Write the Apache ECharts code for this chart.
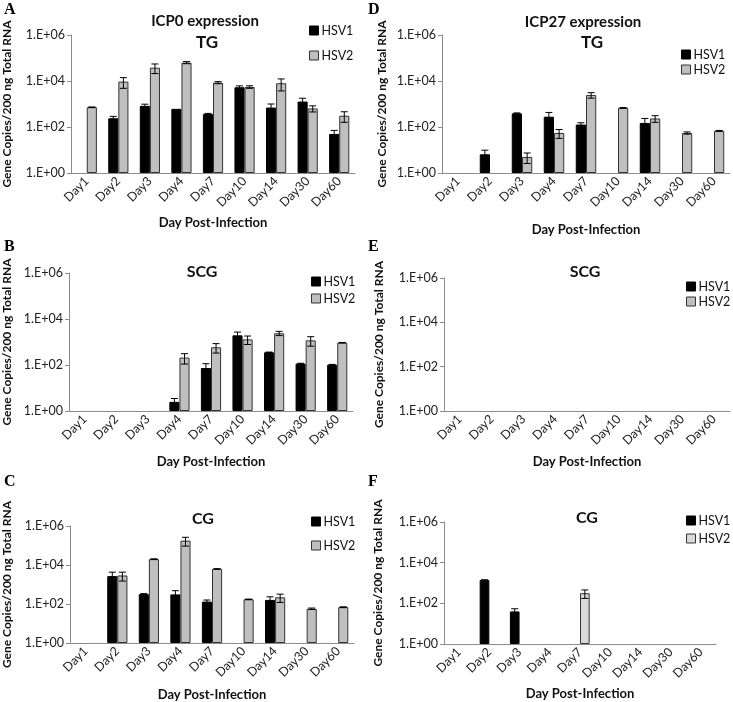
<!DOCTYPE html>
<html>
<head>
<meta charset="utf-8">
<script src="https://cdn.jsdelivr.net/npm/echarts@6/dist/echarts.min.js"></script>
<style>
  html, body { margin: 0; padding: 0; background: #fff; }
  #chart { width: 733px; height: 702px; }
</style>
</head>
<body>
<div id="chart"></div>
<script>
// categories
const days = ['Day1', 'Day2', 'Day3', 'Day4', 'Day7', 'Day10', 'Day14', 'Day30', 'Day60']
const seriesNames = ['HSV1', 'HSV2']

// A - ICP0, TG
const icp0TgHsv1 = ['-', 240, 830, 615, 370, 5350, 700, 1280, 50]
const icp0TgHsv1Err = [null, 50, 150, null, 20, 800, 300, 500, 21]
const icp0TgHsv2 = [725, 9400, 38000, 63000, 8500, 5500, 8000, 640, 310]
const icp0TgHsv2Err = [20, 4600, 17000, 6500, 900, 700, 4300, 190, 150]

// B - ICP0, SCG
const icp0ScgHsv1 = ['-', '-', '-', 2.5, 74, 1950, 355, 114, 103]
const icp0ScgHsv1Err = [null, null, null, 1, 40, 750, 10, 5, 3]
const icp0ScgHsv2 = ['-', '-', '-', 210, 590, 1300, 2400, 1180, 935]
const icp0ScgHsv2Err = [null, null, null, 100, 260, 520, 500, 520, 20]

// C - ICP0, CG
const icp0CgHsv1 = ['-', 2700, 320, 310, 133, '-', 162, '-', '-']
const icp0CgHsv1Err = [null, 1600, 20, 170, 27, null, 72, null, null]
const icp0CgHsv2 = ['-', 2900, 20000, 178000, 6300, 174, 220, 57, 69]
const icp0CgHsv2Err = [null, 1400, 800, 85000, 200, 5, 100, 5, 3]

// D - ICP27, TG
const icp27TgHsv1 = ['-', 6.5, 390, 280, 128, '-', 150, '-', '-']
const icp27TgHsv1Err = [null, 3.3, 20, 150, 25, null, 85, null, null]
const icp27TgHsv2 = ['-', '-', 5, 55, 2450, 680, 235, 55, 68]
const icp27TgHsv2Err = [null, null, 2.4, 23, 650, 20, 75, 6, 3]

// E - ICP27, SCG (nothing detected)
const icp27ScgHsv1 = ['-', '-', '-', '-', '-', '-', '-', '-', '-']
const icp27ScgHsv1Err = [null, null, null, null, null, null, null, null, null]
const icp27ScgHsv2 = ['-', '-', '-', '-', '-', '-', '-', '-', '-']
const icp27ScgHsv2Err = [null, null, null, null, null, null, null, null, null]

// F - ICP27, CG
const icp27CgHsv1 = ['-', 1400, 40, '-', '-', '-', '-', '-', '-']
const icp27CgHsv1Err = [null, 30, 14, null, null, null, null, null, null]
const icp27CgHsv2 = ['-', '-', '-', '-', 315, '-', '-', '-', '-']
const icp27CgHsv2Err = [null, null, null, null, 140, null, null, null, null]

// y axis: 1.E+00 .. 1.E+06, a tick every two decades
const yMin = 1
const yMax = 1e6
const yDecadeStep = 2

const FONT = 'Lato, "Open Sans", sans-serif'

const panels = [
  { letter: 'A', lx: 8, ly: 8, titles: [['ICP0 expression', 205, 21, 15], ['TG', 207, 43, 17]],
    grid: { left: 67, top: 35, width: 288, height: 138 }, legend: { left: 309, top: 24, gap: 12 },
    nameGap: 58, xNameGap: 43, data: [icp0TgHsv1, icp0TgHsv2], err: [icp0TgHsv1Err, icp0TgHsv2Err], c2: '#bfbfbf' },
  { letter: 'B', lx: 8, ly: 245, titles: [['SCG', 202, 272, 16]],
    grid: { left: 65, top: 273, width: 288, height: 138 }, legend: { left: 311, top: 275, gap: 4 },
    nameGap: 56, xNameGap: 44, data: [icp0ScgHsv1, icp0ScgHsv2], err: [icp0ScgHsv1Err, icp0ScgHsv2Err], c2: '#bfbfbf' },
  { letter: 'C', lx: 8, ly: 480, titles: [['CG', 203, 519, 16]],
    grid: { left: 66, top: 526, width: 288, height: 120 }, legend: { left: 311, top: 515, gap: 11 },
    nameGap: 57, xNameGap: 45, data: [icp0CgHsv1, icp0CgHsv2], err: [icp0CgHsv1Err, icp0CgHsv2Err], c2: '#bfbfbf' },
  { letter: 'D', lx: 372, ly: 8, titles: [['ICP27 expression', 583, 22, 15], ['TG', 592, 43, 17]],
    grid: { left: 442, top: 35, width: 288, height: 138 }, legend: { left: 681, top: 48, gap: 2 },
    nameGap: 54, xNameGap: 50, data: [icp27TgHsv1, icp27TgHsv2], err: [icp27TgHsv1Err, icp27TgHsv2Err], c2: '#bfbfbf' },
  { letter: 'E', lx: 372, ly: 245, titles: [['SCG', 585, 272, 16]],
    grid: { left: 444, top: 278, width: 286, height: 133 }, legend: { left: 686, top: 280, gap: 2 },
    nameGap: 59, xNameGap: 44, data: [icp27ScgHsv1, icp27ScgHsv2], err: [icp27ScgHsv1Err, icp27ScgHsv2Err], c2: '#bfbfbf' },
  { letter: 'F', lx: 372, ly: 480, titles: [['CG', 587, 518, 16]],
    grid: { left: 444, top: 522, width: 272, height: 122 }, legend: { left: 686, top: 514, gap: 5 },
    nameGap: 60, xNameGap: 43, data: [icp27CgHsv1, icp27CgHsv2], err: [icp27CgHsv1Err, icp27CgHsv2Err], c2: '#d9d9d9' }
]

const axisGray = '#8c8c8c'

const grid = []
const xAxis = []
const yAxis = []
const legend = []
const series = []
const graphic = []

panels.forEach((p, i) => {
  grid.push(Object.assign({}, p.grid))

  xAxis.push({
    type: 'category',
    gridIndex: i,
    data: days,
    name: 'Day Post-Infection',
    nameLocation: 'middle',
    nameGap: p.xNameGap,
    nameTextStyle: { fontFamily: FONT, fontWeight: 'bold', fontSize: 13, color: '#111' },
    axisLine: { lineStyle: { color: axisGray } },
    axisTick: { length: 4, lineStyle: { color: axisGray } },
    axisLabel: { rotate: 45, fontFamily: FONT, fontSize: 12.5, color: '#222', margin: 6 }
  })

  yAxis.push({
    type: 'log',
    logBase: 10,
    gridIndex: i,
    min: yMin,
    max: yMax,
    interval: yDecadeStep,
    name: 'Gene Copies/200 ng Total RNA',
    nameLocation: 'middle',
    nameGap: p.nameGap,
    nameTextStyle: { fontFamily: FONT, fontWeight: 'bold', fontSize: 12, color: '#111' },
    axisLine: { show: true, lineStyle: { color: axisGray } },
    axisTick: { show: true, length: 4, lineStyle: { color: axisGray } },
    minorTick: { show: false },
    splitLine: { show: false },
    axisLabel: {
      fontFamily: FONT, fontSize: 12.5, color: '#222', margin: 6,
      formatter: v => '1.E+' + String(Math.round(Math.log10(v))).padStart(2, '0')
    }
  })

  legend.push({
    orient: 'vertical',
    left: p.legend.left,
    top: p.legend.top,
    itemGap: p.legend.gap,
    itemWidth: 9,
    itemHeight: 9,
    icon: 'rect',
    selectedMode: false,
    padding: 0,
    textStyle: { fontFamily: FONT, fontSize: 12.5, color: '#111', padding: [0, 0, 0, -2] },
    data: [
      { name: 'HSV1', itemStyle: { color: '#000', borderColor: '#000', borderWidth: 1 } },
      { name: 'HSV2', itemStyle: { color: p.c2, borderColor: '#333', borderWidth: 1 } }
    ]
  })

  const colors = ['#000000', p.c2]
  p.data.forEach((vals, k) => {
    series.push({
      name: seriesNames[k],
      type: 'bar',
      xAxisIndex: i,
      yAxisIndex: i,
      data: vals,
      barGap: '0%',
      barCategoryGap: '36%',
      itemStyle: { color: colors[k], borderColor: k === 0 ? '#000' : '#333', borderWidth: 1 },
      animation: false
    })
  })

  // error bars
  p.err.forEach((errs, k) => {
    const pts = []
    errs.forEach((e, idx) => {
      const v = p.data[k][idx]
      if (e != null && v !== '-') pts.push([idx, v, e])
    })
    series.push({
      type: 'custom',
      xAxisIndex: i,
      yAxisIndex: i,
      data: pts,
      encode: { x: 0, y: 1 },
      z: 5,
      silent: true,
      animation: false,
      renderItem: (params, api) => {
        const idx = api.value(0)
        const v = api.value(1)
        const e = api.value(2)
        const bw = api.coord([1, v])[0] - api.coord([0, v])[0]
        const off = (k === 0 ? -0.16 : 0.16) * bw
        const top = api.coord([idx, v + e])
        const bot = api.coord([idx, Math.max(v - e, 1)])
        const x = top[0] + off
        const cap = 3.5
        const style = { stroke: '#000', lineWidth: 1, fill: null }
        return {
          type: 'group',
          children: [
            { type: 'line', shape: { x1: x, y1: top[1], x2: x, y2: bot[1] }, style },
            { type: 'line', shape: { x1: x - cap, y1: top[1], x2: x + cap, y2: top[1] }, style },
            { type: 'line', shape: { x1: x - cap, y1: bot[1], x2: x + cap, y2: bot[1] }, style }
          ]
        }
      }
    })
  })

  graphic.push({
    type: 'text', left: p.lx - 4, top: p.ly - 6,
    style: { text: p.letter, fontFamily: '"Liberation Serif", serif', fontWeight: 'bold', fontSize: 16, fill: '#000' }
  })
  p.titles.forEach(t => {
    graphic.push({
      type: 'text', x: t[1], y: t[2],
      style: { text: t[0], fontFamily: FONT, fontWeight: 'bold', fontSize: t[3], fill: '#111', align: 'center', verticalAlign: 'middle' }
    })
  })
})

const chart = echarts.init(document.getElementById('chart'), null, { renderer: 'canvas' })
chart.setOption({
  backgroundColor: '#fff',
  animation: false,
  grid,
  xAxis,
  yAxis,
  legend,
  series,
  graphic
})
</script>
</body>
</html>
